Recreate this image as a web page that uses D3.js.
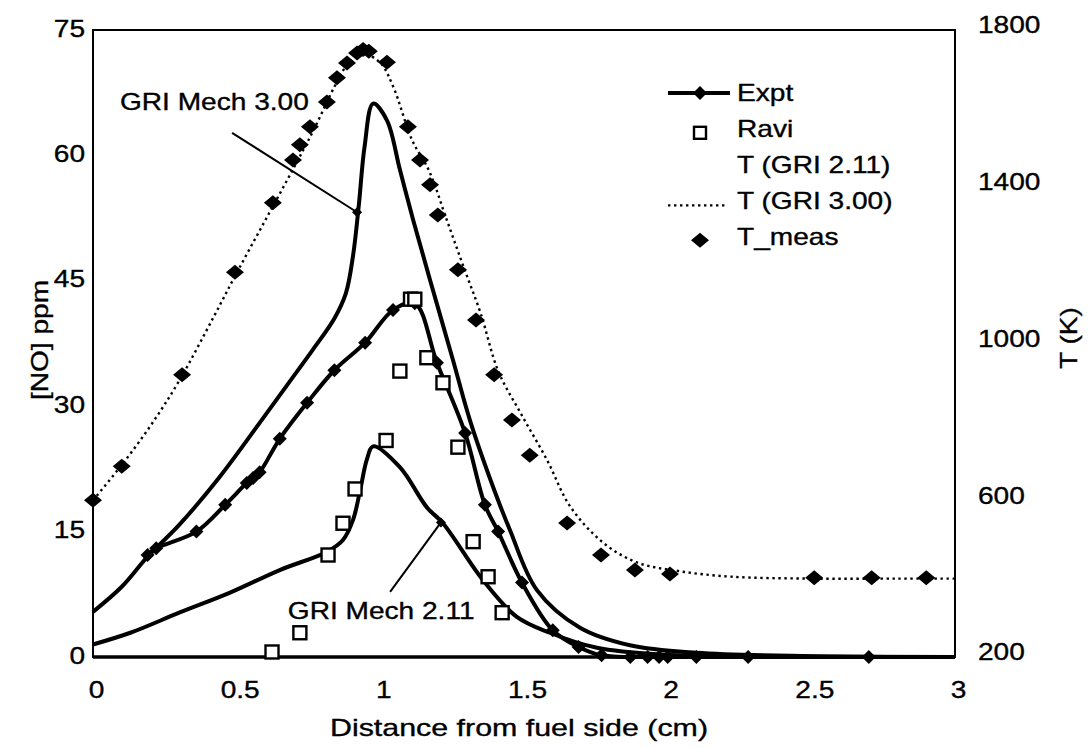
<!DOCTYPE html>
<html><head><meta charset="utf-8">
<script src="https://cdn.jsdelivr.net/npm/d3@7"></script>
<style>
body{margin:0;background:#fff}
svg text{font-family:"Liberation Sans",Arial,sans-serif;font-size:24px;fill:#000;stroke:#000;stroke-width:0.35px}
</style></head><body>
<svg id="c" width="1091" height="748"></svg>
<script>
// ---------- data ----------
const xTicks = [0, 0.5, 1, 1.5, 2, 2.5, 3];
const xTickLabels = ["0", "0.5", "1", "1.5", "2", "2.5", "3"];
const noTicks = [0, 15, 30, 45, 60, 75];
const tTicks = [200, 600, 1000, 1400, 1800];

// Expt [NO] (ppm)
const exptX  = [0.19,0.22,0.36,0.46,0.535,0.557,0.58,0.65,0.745,0.84,0.947,1.044,1.12,1.197,1.295,1.364,1.41,1.493,1.6,1.69,1.77,1.87,1.93,1.97,2.0,2.1,2.28,2.7];
const exptNO = [12.2,13,15,18.2,20.8,21.4,22.1,26.1,30.4,34.3,37.6,41.5,42.3,35.2,26.8,18.2,15,8.9,3.2,1.2,0.2,0,0,0,0,0,0,0];

// Ravi [NO] (ppm)
const raviX  = [0.623,0.72,0.818,0.87,0.912,1.02,1.068,1.105,1.12,1.162,1.218,1.27,1.323,1.375,1.424];
const raviNO = [0.6,2.9,12.2,16,20.1,25.9,34.2,42.8,42.8,35.8,32.8,25.1,13.8,9.6,5.3];

// GRI Mech 3.00 [NO] (ppm)
const gri300X  = [0,0.1,0.19,0.3,0.44,0.58,0.675,0.766,0.84,0.88,0.905,0.925,0.945,0.975,1.023,1.068,1.114,1.173,1.253,1.312,1.396,1.451,1.545,1.695,1.869,2.1,2.5,3.0];
const gri300NO = [5.4,8.4,12,15.8,21.5,28,32.5,36.8,40.5,43.5,48,54,61,66.2,64.2,58.3,52.3,45.1,35.5,28.3,20.0,15.2,8.0,3.5,1.4,0.5,0.1,0];

// GRI Mech 2.11 [NO] (ppm)
const gri211X  = [0,0.13,0.3,0.477,0.65,0.815,0.87,0.905,0.93,0.953,0.975,1.068,1.162,1.218,1.357,1.475,1.59,1.754,1.98,2.5,3.0];
const gri211NO = [1.5,2.9,5.3,7.7,10.4,12.6,14,16.4,20,23.6,25.2,22.7,17.9,16,9.2,4.8,2.9,1.1,0.3,0.05,0];

// T (GRI 3.00) (K)
const tGri300X = [0,0.1,0.2,0.3,0.42,0.5,0.6,0.7,0.77,0.84,0.88,0.94,1.0,1.045,1.11,1.17,1.23,1.29,1.35,1.41,1.49,1.58,1.66,1.77,1.89,2.04,2.22,2.5,2.8,3.0];
const tGri300T = [600,690,790,905,1068,1180,1315,1450,1548,1655,1706,1738,1716,1655,1520,1440,1318,1195,1075,930,820,703,585,495,442,419,405,400,400,400];

// T_meas (K)
const tMeasX = [0,0.1,0.31,0.494,0.626,0.696,0.72,0.755,0.814,0.849,0.884,0.919,0.94,0.96,1.023,1.096,1.138,1.173,1.2,1.27,1.333,1.396,1.458,1.52,1.65,1.768,1.886,2.008,2.51,2.71,2.9];
const tMeasT = [600,687,920,1182,1359,1468,1507,1553,1616,1678,1716,1741,1750,1746,1718,1553,1468,1405,1328,1188,1060,920,805,715,542,460,422,412,402,402,402];

const legendLabels = ["Expt", "Ravi", "T (GRI 2.11)", "T (GRI 3.00)", "T_meas"];

// annotations
const annLabels = ["GRI Mech 3.00", "GRI Mech 2.11"];
const annTextX  = [0.094, 0.678];
const annTextNO = [66.4, 5.6];
const annFromX  = [0.484, 1.034];
const annFromNO = [62.7, 7.8];
const annToX    = [0.919, 1.211];
const annToNO   = [53.2, 16.1];

// ---------- chart ----------
const svg = d3.select("#c");
const x  = d3.scaleLinear().domain([0, 3]).range([93, 955]);
const yL = d3.scaleLinear().domain([0, 75]).range([657, 30]);
const yR = d3.scaleLinear().domain([200, 1800]).range([657, 30]);

const zip = (a, b) => a.map((v, i) => [v, b[i]]);
const diamond = (hw, hh) => `M0,${-hh}L${hw},0L0,${hh}L${-hw},0Z`;

// frame
svg.append("rect").attr("x", x(0)).attr("y", yL(75))
  .attr("width", x(3) - x(0)).attr("height", yL(0) - yL(75))
  .attr("fill", "none").attr("stroke", "#000").attr("stroke-width", 2);

// axes (labels only)
const gx = svg.append("g").attr("transform", `translate(0,${yL(0)})`)
  .call(d3.axisBottom(x).tickValues(xTicks).tickFormat((d, i) => xTickLabels[i]).tickSize(0).tickPadding(24));
const gl = svg.append("g").attr("transform", `translate(${x(0)},0)`)
  .call(d3.axisLeft(yL).tickValues(noTicks).tickFormat(d3.format("d")).tickSize(0).tickPadding(8));
const gr = svg.append("g").attr("transform", `translate(${x(3)},0)`)
  .call(d3.axisRight(yR).tickValues(tTicks).tickFormat(d3.format("d")).tickSize(0).tickPadding(23));
[gx, gl, gr].forEach(g => { g.select(".domain").remove(); g.selectAll("text").attr("font-size", null).attr("font-family", null).attr("class", "st"); });
gx.selectAll("text").attr("dx", 3);
gl.selectAll("text").attr("dy", "0.25em");
gr.selectAll("text").attr("dy", "0.12em");

// thicker bottom axis line
svg.append("line").attr("x1", x(0)).attr("x2", x(3)).attr("y1", yL(0)).attr("y2", yL(0))
  .attr("stroke", "#000").attr("stroke-width", 3.5);

const curve = d3.curveCatmullRom.alpha(0.5);
const lineNO = d3.line().x(d => x(d[0])).y(d => yL(d[1])).curve(curve);
const lineT  = d3.line().x(d => x(d[0])).y(d => yR(d[1])).curve(curve);

// T (GRI 3.00) dotted
svg.append("path").attr("d", lineT(zip(tGri300X, tGri300T)))
  .attr("fill", "none").attr("stroke", "#000").attr("stroke-width", 2.4).attr("stroke-dasharray", "2.4,3.6");

// GRI NO curves
svg.append("path").attr("d", lineNO(zip(gri300X, gri300NO)))
  .attr("fill", "none").attr("stroke", "#000").attr("stroke-width", 4);
svg.append("path").attr("d", lineNO(zip(gri211X, gri211NO)))
  .attr("fill", "none").attr("stroke", "#000").attr("stroke-width", 4);

// Expt
svg.append("path").attr("d", lineNO(zip(exptX, exptNO)))
  .attr("fill", "none").attr("stroke", "#000").attr("stroke-width", 4);
svg.append("g").selectAll("path").data(zip(exptX, exptNO)).join("path")
  .attr("transform", d => `translate(${x(d[0])},${yL(d[1])})`)
  .attr("d", diamond(7, 7)).attr("fill", "#000");

// T_meas
svg.append("g").selectAll("path").data(zip(tMeasX, tMeasT)).join("path")
  .attr("transform", d => `translate(${x(d[0])},${yR(d[1])})`)
  .attr("d", diamond(9, 7.5)).attr("fill", "#000");

// Ravi squares
svg.append("g").selectAll("rect").data(zip(raviX, raviNO)).join("rect")
  .attr("x", d => x(d[0]) - 6.5).attr("y", d => yL(d[1]) - 6.5)
  .attr("width", 13).attr("height", 13)
  .attr("fill", "#fff").attr("stroke", "#000").attr("stroke-width", 2.4);

// annotations
annLabels.forEach((lab, i) => {
  svg.append("line")
    .attr("x1", x(annFromX[i])).attr("y1", yL(annFromNO[i]))
    .attr("x2", x(annToX[i])).attr("y2", yL(annToNO[i]))
    .attr("stroke", "#000").attr("stroke-width", 2);
  svg.append("path").attr("transform", `translate(${x(annToX[i])},${yL(annToNO[i])})`)
    .attr("d", diamond(5, 5)).attr("fill", "#000");
  svg.append("text").attr("class", "st")
    .attr("x", x(annTextX[i])).attr("y", yL(annTextNO[i])).attr("dy", "0.35em")
    .text(lab);
});

// legend
const lg = svg.append("g");
const lgY = legendLabels.map((d, i) => 93 + i * 35.8);
lg.append("line").attr("x1", 668).attr("x2", 730).attr("y1", lgY[0]).attr("y2", lgY[0])
  .attr("stroke", "#000").attr("stroke-width", 4);
lg.append("path").attr("transform", `translate(700,${lgY[0]})`).attr("d", diamond(7, 7)).attr("fill", "#000");
lg.append("rect").attr("x", 700 - 6).attr("y", lgY[1] + 4 - 6).attr("width", 12).attr("height", 12)
  .attr("fill", "#fff").attr("stroke", "#000").attr("stroke-width", 2.4);
lg.append("line").attr("x1", 668).attr("x2", 727).attr("y1", lgY[3] + 5).attr("y2", lgY[3] + 5)
  .attr("stroke", "#000").attr("stroke-width", 2.4).attr("stroke-dasharray", "2.4,3.6");
lg.append("path").attr("transform", `translate(700,${lgY[4] + 4})`).attr("d", diamond(9, 7.5)).attr("fill", "#000");
lg.selectAll("text").data(legendLabels).join("text").attr("class", "st")
  .attr("x", 737).attr("y", (d, i) => lgY[i]).attr("dy", "0.35em").text(d => d);

// axis titles
svg.append("text").attr("class", "st").attr("id", "xt")
  .attr("x", 519).attr("y", 728).attr("dy", "0.35em").attr("text-anchor", "middle")
  .text("Distance from fuel side (cm)");
svg.append("text").attr("class", "st")
  .attr("transform", "translate(40,340) rotate(-90)").attr("dy", "0.35em").attr("text-anchor", "middle")
  .text("[NO] ppm");
svg.append("text").attr("class", "st")
  .attr("transform", "translate(1069,338) rotate(-90)").attr("dy", "0.35em").attr("text-anchor", "middle")
  .text("T (K)");

// horizontal stretch of text to match the reference glyph widths
svg.selectAll("text.st").each(function () {
  const len = this.getComputedTextLength();
  const k = this.id === "xt" ? 378 / len : 1.17;
  d3.select(this).attr("textLength", len * k).attr("lengthAdjust", "spacingAndGlyphs");
});
</script>
</body></html>
